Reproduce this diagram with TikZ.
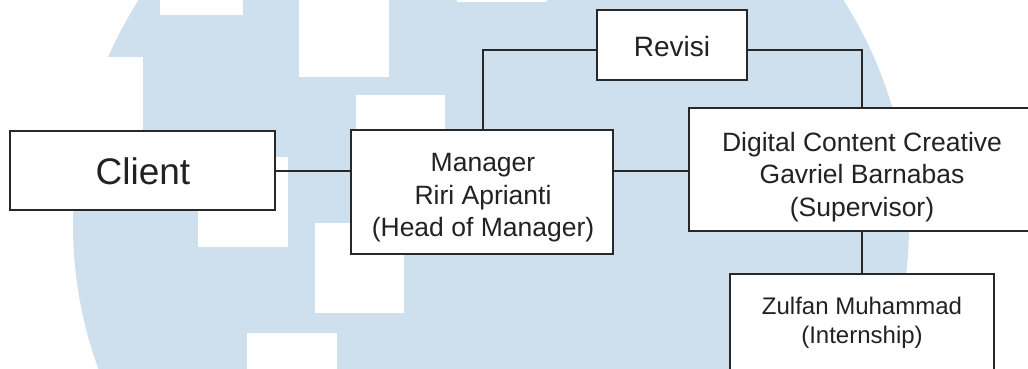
\documentclass[tikz,border=0pt]{standalone}
\usepackage{fontspec}
\setmainfont{Liberation Sans}
\definecolor{wm}{RGB}{206,223,238}
\definecolor{txt}{RGB}{34,34,34}
\definecolor{ln}{RGB}{40,40,40}
\begin{document}
\begin{tikzpicture}[x=1pt,y=-1pt,
  box/.style={draw=ln, line width=2pt, fill=white, inner sep=0pt},
  lbl/.style={text=txt, align=center, inner sep=0pt},
  conn/.style={draw=ln, line width=2pt}]
\useasboundingbox (0,0) rectangle (1028,369);
\clip (0,0) rectangle (1028,369);
% watermark background
\fill[wm] (491,225) circle [radius=418pt];
\fill[white] (160,-80) rectangle (243,15);
\fill[white] (299,-13) rectangle (389,77);
\fill[white] (457,-88) rectangle (547,2);
\fill[white] (53,57) rectangle (143,147);
\fill[white] (356,95) rectangle (445,185);
\fill[white] (198,157) rectangle (288,247);
\fill[white] (315,223) rectangle (404,313);
\fill[white] (247,333) rectangle (337,423);
% boxes
\node[box, minimum width=265pt, minimum height=79pt] (client) at (142.5,170) {};
\node[box, minimum width=262pt, minimum height=124pt] (mgr) at (482,192) {};
\node[box, minimum width=150pt, minimum height=70pt] (rev) at (672,45) {};
\node[box, minimum width=346pt, minimum height=123pt] (dig) at (862,169.5) {};
\node[box, minimum width=264pt, minimum height=140pt] (zul) at (862,344) {};
% labels
\node[lbl, font=\fontsize{37}{44}\selectfont] (clientT) at (143,171) {Client};
\node[lbl, font=\fontsize{26.5}{32.5}\selectfont] (mgrT) at (483,198) {Manager\\Riri Aprianti\\(Head of Manager)};
\node[lbl, font=\fontsize{28}{34}\selectfont] (revT) at (672,46) {Revisi};
\node[lbl, font=\fontsize{26.5}{32.5}\selectfont] (digT) at (862,177) {Digital Content Creative\\Gavriel Barnabas\\(Supervisor)};
\node[lbl, font=\fontsize{24}{29}\selectfont] (zulT) at (862,322.5) {Zulfan Muhammad\\(Internship)};
% connectors
\draw[conn] ([yshift=-1pt]client.east) -- ([yshift=-1pt]client.east -| mgr.west);
\draw[conn] ([yshift=-1pt]client.east -| mgr.east) -- ([yshift=-1pt]client.east -| dig.west);
\draw[conn] ([xshift=1pt]mgr.north) |- ([yshift=-5pt]rev.west);
\draw[conn] ([yshift=-5pt]rev.east) -| (dig.north);
\draw[conn] (dig.south) -- (zul.north);
\end{tikzpicture}
\end{document}
